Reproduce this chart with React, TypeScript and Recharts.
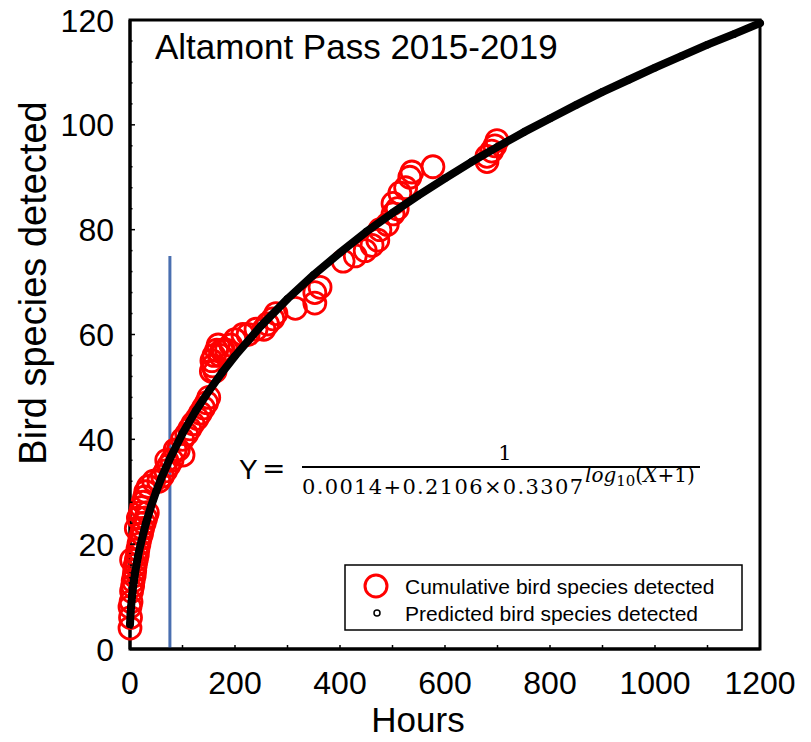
import React from 'react';
import {
    ComposedChart,
    Scatter,
    XAxis,
    YAxis,
    ReferenceLine,
    ReferenceArea,
} from 'recharts';

const obsHours = [
    0, 1, 0, 2, 3, 5, 6, 8, 9, 10, 12, 14, 3, 15, 17, 19, 22, 12, 24, 27,
    16, 20, 30, 33, 22, 25, 28, 30, 35, 45, 55, 62, 68, 74, 70, 80, 86, 92, 100, 101,
    108, 114, 120, 128, 134, 140, 146, 150, 155, 156, 158, 160, 162, 165, 168, 172, 175, 178, 184, 192,
    200, 215, 225, 240, 255, 262, 272, 278, 315, 352, 352, 362, 406, 429, 448, 461, 472, 476, 490, 501,
    509, 501, 514, 525, 533, 537, 577, 680, 680, 689, 695, 699,
];
const obsSpecies = [
    4, 6, 8, 9, 11, 12, 13, 14, 15, 16, 17, 18, 17, 19, 20, 21, 22, 23, 23, 24,
    25, 26, 25, 26, 27, 28, 29, 30, 31, 32, 32, 33, 34, 35, 36, 36, 38, 38, 40, 37,
    41, 42, 43, 44, 45, 46, 47, 48, 53, 55, 54, 56, 53, 57, 58, 56, 57, 57, 57, 58,
    59, 60, 60, 61, 61, 62, 63, 64, 65, 66, 68, 69, 74, 75, 76, 77, 78, 80, 81, 83,
    84, 85, 87, 88, 90, 91, 92, 93, 94, 95, 96, 97,
];

// predicted curve (hours, species)
const predHours = [
    0, 1, 2, 3, 5, 7, 10, 15, 20, 30, 40, 50, 60, 75, 100, 125, 150, 175, 200, 250,
    300, 350, 400, 450, 500, 550, 600, 650, 700, 750, 800, 850, 900, 950, 1000, 1050, 1100, 1150, 1200,
];
const predSpecies = [
    4.7, 6.6, 8.0, 9.1, 11.1, 12.7, 14.7, 17.6, 19.9, 23.9, 27.2, 30.1, 32.7, 36.1, 41.1, 45.4, 49.2, 52.7, 55.9, 61.7,
    66.8, 71.4, 75.6, 79.6, 83.2, 86.6, 89.8, 92.9, 95.8, 98.6, 101.2, 103.8, 106.3, 108.6, 110.9, 113.1, 115.3, 117.3, 119.4,
];

const cutoffHours = 76;
const cutoffTop = 75;

const X_TICKS = [0, 100, 200, 300, 400, 500, 600, 700, 800, 900, 1000, 1100, 1200];
const Y_TICKS = [0, 4, 8, 12, 16, 20, 24, 28, 32, 36, 40, 44, 48, 52, 56, 60, 64, 68, 72, 76, 80, 84, 88, 92, 96, 100, 104, 108, 112, 116, 120];

const observed = obsHours.map((h, i) => ({ h, v: obsSpecies[i] }));
const predicted = predHours.map((h, i) => ({ h, v: predSpecies[i] }));

const W = 811;
const H = 742;
const PLOT_LEFT = 130;
const PLOT_RIGHT = 760;
const PLOT_TOP = 20;
const PLOT_BOTTOM = 649;
const FONT = 'Arial, "Liberation Sans", sans-serif';
const MATH = '"DejaVu Serif", "Liberation Serif", serif';

const BottomTick = ({ x, payload }: any) => {
    const v = payload.value;
    return (
        <g>
            <line x1={x} x2={x} y1={PLOT_BOTTOM} y2={PLOT_BOTTOM - 4} stroke="#000" strokeWidth={1.5} />
            {v % 200 === 0 && (
                <text x={x} y={PLOT_BOTTOM + 45} textAnchor="middle" fontSize={32} fontFamily={FONT} fill="#000">
                    {v}
                </text>
            )}
        </g>
    );
};

const TopTick = ({ x }: any) => (
    <line x1={x} x2={x} y1={PLOT_TOP} y2={PLOT_TOP + 4} stroke="#000" strokeWidth={1.5} />
);

const LeftTick = ({ y, payload }: any) => {
    const v = payload.value;
    const major = v % 20 === 0;
    return (
        <g>
            <line x1={PLOT_LEFT} x2={PLOT_LEFT + (major ? 5 : 2.5)} y1={y} y2={y} stroke="#000" strokeWidth={1.5} />
            {major && (
                <text x={PLOT_LEFT - 16} y={y} dy="0.36em" textAnchor="end" fontSize={32} fontFamily={FONT} fill="#000">
                    {v}
                </text>
            )}
        </g>
    );
};

const RightTick = ({ y, payload }: any) => {
    const major = payload.value % 20 === 0;
    return <line x1={PLOT_RIGHT} x2={PLOT_RIGHT - (major ? 5 : 2.5)} y1={y} y2={y} stroke="#000" strokeWidth={1.5} />;
};

const RedCircle = ({ cx, cy }: any) => (
    <circle cx={cx} cy={cy} r={11} fill="none" stroke="#ff0000" strokeWidth={2.8} />
);

const SmallCircle = ({ cx, cy }: any) => (
    <circle cx={cx} cy={cy} r={3} fill="none" stroke="#000" strokeWidth={1.5} />
);

export default function App() {
    return (
        <div style={{ position: 'absolute', left: 0, top: 0, width: W, height: H, background: '#fff' }}>
            <ComposedChart
                width={W}
                height={H}
                margin={{ top: PLOT_TOP, right: W - PLOT_RIGHT, bottom: 33, left: 70 }}
            >
                <XAxis
                    dataKey="h"
                    type="number"
                    domain={[0, 1200]}
                    ticks={X_TICKS}
                    interval={0}
                    height={60}
                    axisLine={{ stroke: '#000', strokeWidth: 3 }}
                    tickLine={false}
                    tick={<BottomTick />}
                />
                <XAxis
                    xAxisId="top"
                    orientation="top"
                    type="number"
                    domain={[0, 1200]}
                    ticks={X_TICKS}
                    interval={0}
                    height={0}
                    axisLine={false}
                    tickLine={false}
                    tick={<TopTick />}
                />
                <YAxis
                    type="number"
                    domain={[0, 120]}
                    ticks={Y_TICKS}
                    interval={0}
                    width={60}
                    axisLine={{ stroke: '#000', strokeWidth: 3 }}
                    tickLine={false}
                    tick={<LeftTick />}
                />
                <YAxis
                    yAxisId="right"
                    orientation="right"
                    type="number"
                    domain={[0, 120]}
                    ticks={Y_TICKS}
                    interval={0}
                    width={0}
                    axisLine={false}
                    tickLine={false}
                    tick={<RightTick />}
                />
                <ReferenceArea x1={0} x2={1200} y1={0} y2={120} fill="none" stroke="#000" strokeWidth={3} />
                <Scatter data={observed} dataKey="v" shape={<RedCircle />} isAnimationActive={false} />
                <Scatter
                    data={predicted}
                    dataKey="v"
                    line={{ stroke: '#000', strokeWidth: 8, strokeLinejoin: 'round', strokeLinecap: 'round' }}
                    lineType="joint"
                    shape={<SmallCircle />}
                    isAnimationActive={false}
                />
                <ReferenceLine
                    segment={[{ x: cutoffHours, y: 0 }, { x: cutoffHours, y: cutoffTop }]}
                    stroke="#4a6fb0"
                    strokeWidth={3}
                />

                <text x={155} y={59} fontSize={35} fontFamily={FONT} fill="#000">Altamont Pass 2015-2019</text>

                <text
                    x={33}
                    y={283}
                    transform="rotate(-90 33 283)"
                    textAnchor="middle"
                    dominantBaseline="central"
                    fontSize={38}
                    fontFamily={FONT}
                    fill="#000"
                >
                    Bird species detected
                </text>
                <text x={418} y={732} textAnchor="middle" fontSize={35} fontFamily={FONT} fill="#000">Hours</text>

                {/* fitted equation */}
                <text x={239} y={479} fontSize={28} fontFamily={FONT} fill="#000">Y</text>
                <text x={262} y={478} fontSize={28} fontFamily={MATH} fill="#000">=</text>
                <line x1={302} x2={700} y1={467} y2={467} stroke="#000" strokeWidth={2} />
                <text x={505} y={460} textAnchor="middle" fontSize={21} fontFamily={MATH} fill="#000">1</text>
                <text x={302} y={494} fontSize={21} fontFamily={MATH} fill="#000" textLength={281} lengthAdjust="spacing">
                    0.0014+0.2106×0.3307
                </text>
                <text x={585} y={482} fontSize={20} fontFamily={MATH} fill="#000">
                    <tspan fontStyle="italic">log</tspan>
                    <tspan fontSize={15} dy={4}>10</tspan>
                    <tspan dy={-4}>(</tspan>
                    <tspan fontStyle="italic">X</tspan>
                    <tspan>+1)</tspan>
                </text>

                {/* legend */}
                <rect x={345} y={565} width={397} height={65} fill="#fff" stroke="#000" strokeWidth={1.5} />
                <circle cx={376} cy={586} r={11} fill="none" stroke="#ff0000" strokeWidth={3} />
                <text x={405} y={594} fontSize={21} fontFamily={FONT} fill="#000">Cumulative bird species detected</text>
                <circle cx={377} cy={613} r={3} fill="none" stroke="#000" strokeWidth={1.5} />
                <text x={405} y={621} fontSize={21} fontFamily={FONT} fill="#000">Predicted bird species detected</text>
            </ComposedChart>
        </div>
    );
}
